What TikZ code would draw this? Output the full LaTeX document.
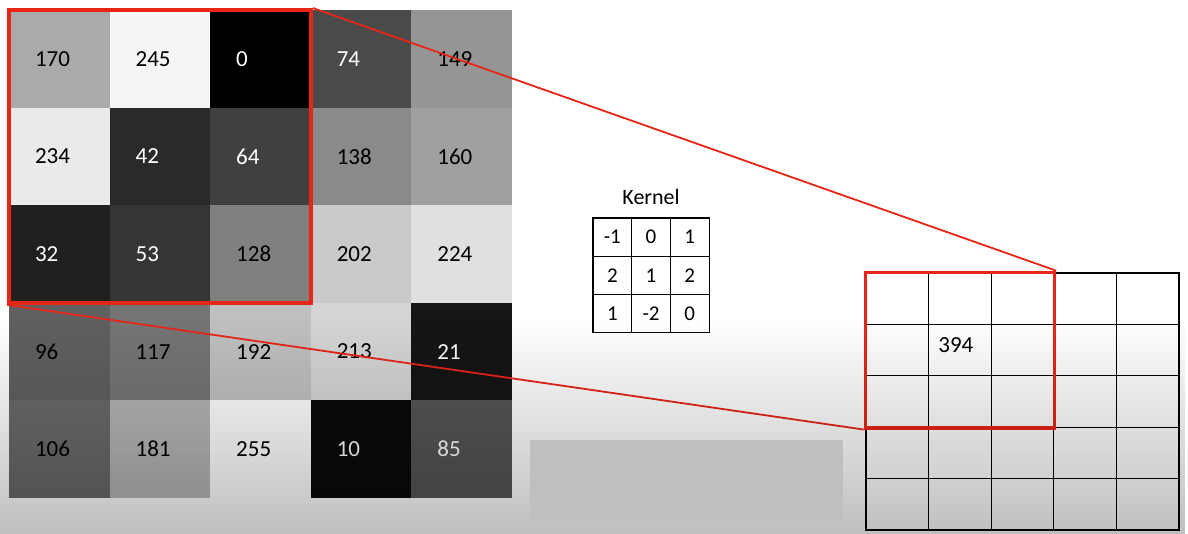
\documentclass[tikz,border=0pt]{standalone}
\usepackage{fontspec}
\setmainfont{Carlito}
\usetikzlibrary{positioning,fit,fadings}
\definecolor{winred}{RGB}{232,38,24}

\begin{document}
\begin{tikzpicture}[x=1pt, y=-1pt,
  pix/.style={minimum height=97.6pt, inner xsep=26pt, inner ysep=0pt,
    text width=48.6pt, align=left, outer sep=0pt,
    font=\fontsize{23}{27}\selectfont},
  kcell/.style={draw, line width=1.2pt, minimum width=38.7pt,
    minimum height=38.3pt, inner sep=0pt, font=\fontsize{21}{25}\selectfont},
  ocell/.style={draw, line width=1.2pt, minimum width=62.6pt,
    minimum height=51.4pt, inner sep=0pt},
  window/.style={draw=winred, line width=4pt, inner sep=0pt},
  zoomline/.style={winred, line width=1.8pt}]

  \useasboundingbox (0,0) rectangle (1188,534);
  \fill[white] (0,0) rectangle (1188,534);

  % ---- input image, one grey cell per pixel ----
  \foreach \row [count=\r] in {{170,245,0,74,149},{234,42,64,138,160},
      {32,53,128,202,224},{96,117,192,213,21},{106,181,255,10,85}}
    \foreach \v [count=\c] in \row {
      \pgfmathsetmacro\k{100*(1-\v/255)}
      \ifnum\v<90 \def\tc{white}\else\def\tc{black}\fi
      \node[pix, fill=black!\k, text=\tc] (p-\r-\c)
        at ({9+100.6*(\c-0.5)},{10+97.6*(\r-0.5)}) {\v};
    }

  % ---- kernel ----
  \foreach \row [count=\r] in {{-1,0,1},{2,1,2},{1,-2,0}}
    \foreach \v [count=\c] in \row
      \node[kcell] (k-\r-\c) at ({593+38.7*(\c-0.5)},{218+38.3*(\r-0.5)}) {\v};
  \node[above=13pt of k-1-2, inner sep=0pt, font=\fontsize{22}{26}\selectfont]
    (klabel) {Kernel};

  % ---- output feature map ----
  \foreach \r in {1,...,5}
    \foreach \c in {1,...,5}
      \node[ocell] (o-\r-\c) at ({866+62.6*(\c-0.5)},{273+51.4*(\r-0.5)}) {};
  \node[xshift=-4pt, yshift=5pt, font=\fontsize{23}{27}\selectfont]
    (res) at (o-2-2) {394};

  % ---- receptive field and where it lands ----
  \node[window, fit=(p-1-1)(p-3-3)] (win) {};
  \node[window, line width=3.5pt, fit=(o-1-1)(o-3-3)] (owin) {};
  \draw[zoomline] (win.north east) -- (owin.north east);
  \draw[zoomline] (win.south west) -- (owin.south west);

  % ---- darkening toward the bottom ----
  \fill[black, opacity=0.25, path fading=north] (0,318) rectangle (1188,534);

  % ---- empty grey panel ----
  \fill[black!25] (530,440) rectangle (843,522);

\end{tikzpicture}
\end{document}
